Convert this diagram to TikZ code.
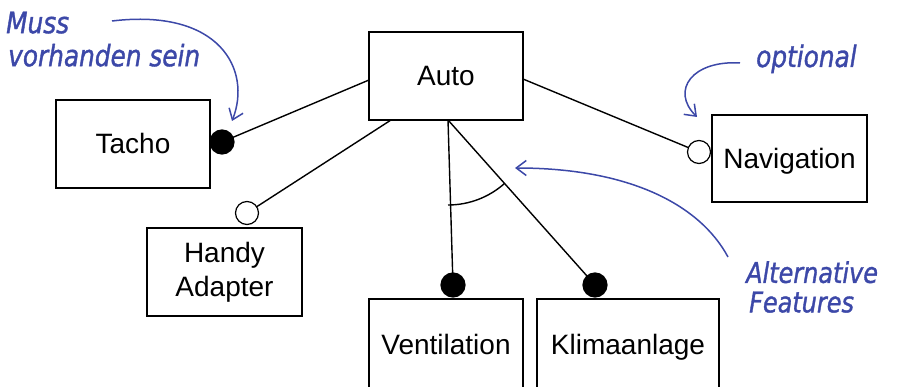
\documentclass[tikz,border=0pt]{standalone}
\usepackage{fontspec}
\setmainfont{Liberation Sans}
\newfontfamily\handfont{DejaVu Sans}[FakeStretch=0.84, FakeBold=1.2]
\usetikzlibrary{arrows.meta}
\definecolor{annot}{RGB}{60,72,168}
\begin{document}
\begin{tikzpicture}[x=1pt,y=-1pt,
  box/.style={draw, line width=1.4pt, rectangle, inner sep=0pt,
    font=\fontsize{28}{34}\selectfont, align=center},
  one/.style={text height=20pt, text depth=0pt},
  link/.style={line width=1.4pt},
  mand/.style={circle, fill=black, draw=black, line width=1.2pt, minimum size=24pt, inner sep=0pt},
  opt/.style={circle, fill=white, draw=black, line width=1.2pt, minimum size=23pt, inner sep=0pt},
  note/.style={text=annot, font=\handfont\itshape\fontsize{29.5}{34}\selectfont, inner sep=0pt},
  noteline/.style={draw=annot, line width=1.5pt, -{Straight Barb[length=10pt,width=15pt]}}]
\useasboundingbox (0,0) rectangle (899,387);
\clip (0,0) rectangle (899,387);

% feature boxes
\node[box, one, minimum width=154pt, minimum height=88pt] (auto) at (446,76) {Auto};
\node[box, one, minimum width=154pt, minimum height=88pt] (tacho) at (133,144) {Tacho};
\node[box, one, minimum width=155pt, minimum height=87pt] (nav) at (789.5,158.5) {Navigation};
\node[box, minimum width=155pt, minimum height=88pt] (handy) at (224.5,272) {Handy\\Adapter};
\node[box, one, minimum width=154pt, minimum height=90pt] (vent) at (446,344) {Ventilation};
\node[box, one, minimum width=182pt, minimum height=90pt] (klima) at (628,344) {Klimaanlage};

% attachment points on Auto
\coordinate (aw) at (369,80);
\coordinate (ae) at (523,79);
\coordinate (as1) at (391,120);
\coordinate (as2) at (448,120);

% connectors
\draw[link] (aw) -- (222,142);
\draw[link] (ae) -- (699,152);
\draw[link] (as1) -- (247,213);
\draw[link] (as2) -- (453,285);
\draw[link] (as2) -- (595,285);
\draw[link] (448,205) arc[start angle=90, end angle=48.3, radius=85];

% end markers
\node[mand] (m1) at (222,142) {};
\node[opt] (o1) at (699,152) {};
\node[opt] (o2) at (247,213) {};
\node[mand] (m2) at (453,285) {};
\node[mand] (m3) at (595,285) {};

% annotations
\node[note, align=left, anchor=north west,
      font=\handfont\itshape\fontsize{29.5}{33}\selectfont] (t1) at (6,11.5) {Muss\\\hspace*{2pt}vorhanden sein};
\node[note, anchor=base west] (t3) at (756,67) {optional};
\node[note, align=left, anchor=north west,
      font=\handfont\itshape\fontsize{28.5}{29.5}\selectfont] (t4) at (746,261) {Alternative\\\hspace*{3pt}Features};

\coordinate (p1) at (112,21);
\coordinate (q1) at (232,121);
\coordinate (p2) at (740,63);
\coordinate (q2) at (697,117);
\coordinate (p3) at (728,257);
\coordinate (q3) at (515,168);
\draw[noteline] (p1) .. controls (220,8) and (252,70) .. (q1);
\draw[noteline] (p2) .. controls (693,60) and (670,90) .. (q2);
\draw[noteline] (p3) .. controls (700,205) and (630,168) .. (q3);
\end{tikzpicture}
\end{document}
